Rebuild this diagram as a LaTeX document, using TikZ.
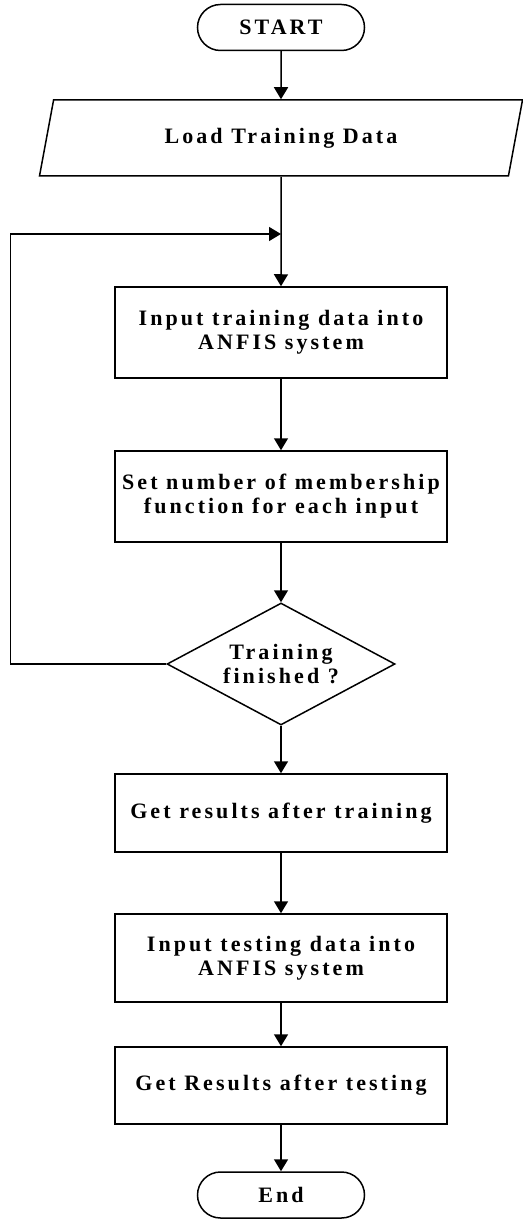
\documentclass[tikz,border=0pt]{standalone}
\usepackage{fontspec}
\newfontfamily\flowfont{Liberation Serif}[LetterSpace=14]
\usetikzlibrary{shapes.geometric,arrows.meta}

\begin{document}
\begin{tikzpicture}[x=1pt, y=-1pt,
  every node/.style={font=\flowfont\bfseries\fontsize{22}{24}\selectfont, align=center},
  term/.style={draw, line width=1.5pt, rounded corners=23pt, minimum width=167pt, minimum height=46pt, inner sep=0pt},
  io/.style={draw, line width=1.5pt, trapezium, trapezium left angle=55, trapezium right angle=125, trapezium stretches body, minimum width=483pt, minimum height=76pt, inner sep=0pt},
  proc/.style={draw, line width=1.5pt, rectangle, minimum width=332pt, inner sep=0pt},
  decide/.style={draw, line width=1.5pt, diamond, aspect=1.87, minimum width=228pt, minimum height=122pt, inner sep=0pt},
  flow/.style={line width=1.5pt, -{Triangle[length=12pt,width=14pt]}}]
\useasboundingbox (0,0) rectangle (522,1230);

% Flow steps
\node[term] (start) at (281,27.5) {START};
\node[io] (load) at (281,138) {Load Training Data};
\node[proc, minimum height=91pt] (inp1) at (281,332.5) {Input training data into\\ANFIS system};
\node[proc, minimum height=91pt] (mf) at (281,496.5) {Set number of membership\\function for each input};
\node[decide] (chk) at (281,664) {Training\\finished ?};
\node[proc, minimum height=78pt] (res1) at (281,813) {Get results after training};
\node[proc, minimum height=88pt] (inp2) at (281,958) {Input testing data into\\ANFIS system};
\node[proc, minimum height=77pt] (res2) at (281,1085.5) {Get Results after testing};
\node[term] (stop) at (281,1195) {End};
\coordinate (merge) at (281,234);

% Connectors
\draw[flow] (start) -- (load);
\draw[flow] (load) -- (inp1);
\draw[flow] (inp1) -- (mf);
\draw[flow] (mf) -- (chk);
\draw[flow] (chk) -- (res1);
\draw[flow] (res1) -- (inp2);
\draw[flow] (inp2) -- (res2);
\draw[flow] (res2) -- (stop);

% Loop back
\draw[flow] (chk.west) -- ++(-156,0) |- (merge);
\end{tikzpicture}
\end{document}
